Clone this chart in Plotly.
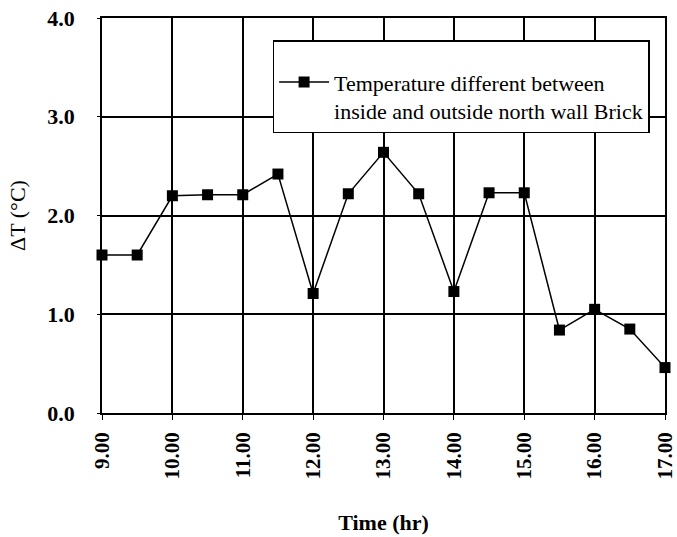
import plotly.graph_objects as go

time_hr = [9.0, 9.5, 10.0, 10.5, 11.0, 11.5, 12.0, 12.5, 13.0, 13.5, 14.0, 14.5, 15.0, 15.5, 16.0, 16.5, 17.0]
delta_t = [1.60, 1.60, 2.20, 2.21, 2.21, 2.42, 1.21, 2.22, 2.64, 2.22, 1.23, 2.23, 2.23, 0.84, 1.05, 0.85, 0.46]
x_tickvals = [9, 10, 11, 12, 13, 14, 15, 16, 17]
x_ticktext = ["9.00", "10.00", "11.00", "12.00", "13.00", "14.00", "15.00", "16.00", "17.00"]
y_tickvals = [0, 1, 2, 3, 4]
y_ticktext = ["0.0", "1.0", "2.0", "3.0", "4.0"]
series_name = "Temperature different between<br>inside and outside north wall Brick"

font = "Liberation Serif, Times New Roman, serif"

fig = go.Figure()
fig.add_trace(go.Scatter(
    x=time_hr, y=delta_t, mode="lines+markers", name=series_name,
    line=dict(color="black", width=1.5),
    marker=dict(symbol="square", size=11, color="black"),
    cliponaxis=False,
))

fig.update_layout(
    width=677, height=537,
    margin=dict(l=102, r=12, t=18, b=124, autoexpand=False),
    paper_bgcolor="white", plot_bgcolor="white",
    font=dict(family=font, color="black"),
    showlegend=True,
    legend=dict(
        x=0.303, y=0.944, xanchor="left", yanchor="top",
        bgcolor="white", bordercolor="black", borderwidth=1.5,
        font=dict(family=font, size=22, color="black"),
        title=dict(text=" ", font=dict(size=15)),
        valign="top", itemwidth=50,
    ),
    xaxis=dict(
        range=[9, 17], tickvals=x_tickvals, ticktext=x_ticktext,
        tickangle=-90, tickfont=dict(family=font, size=21, color="black", weight="bold"),
        showgrid=True, gridcolor="black", gridwidth=1.5,
        showline=True, linecolor="black", linewidth=1.5, mirror=True,
        ticks="outside", ticklen=5, tickcolor="black", zeroline=False,
        automargin=False, ticklabelstandoff=4, ticklabeloverflow="allow",
        title=dict(text="<b>Time (hr)</b>", font=dict(family=font, size=22, color="black"), standoff=36),
    ),
    yaxis=dict(
        range=[0, 4], tickvals=y_tickvals, ticktext=y_ticktext,
        tickfont=dict(family=font, size=22, color="black", weight="bold"),
        showgrid=True, gridcolor="black", gridwidth=1.5,
        showline=True, linecolor="black", linewidth=1.5, mirror=True,
        ticks="outside", ticklen=3, tickcolor="black", zeroline=False,
        automargin=False, ticklabelstandoff=18, ticklabeloverflow="allow",
        title=dict(text="ΔT (°C)", font=dict(family=font, size=22, color="black"), standoff=16),
    ),
)

# remove the browser's default 8px body margin so the figure fills the window
fig.write_html("out.html", config={"displayModeBar": False},
               post_script="document.body.style.margin='0px';")
